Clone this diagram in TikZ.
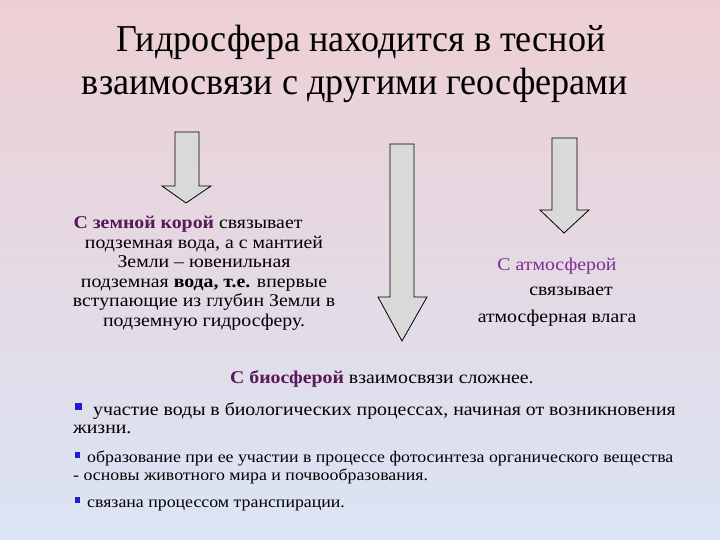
\documentclass[tikz,border=0pt]{standalone}
\usepackage{fontspec}
\setmainfont[FakeStretch=1.1]{Liberation Serif}
\newfontfamily\titlefont[FakeStretch=0.95]{Liberation Serif}
\definecolor{bgtop}{RGB}{237,207,211}
\definecolor{bgmid}{RGB}{198,210,236}
\definecolor{bgbot}{RGB}{219,228,245}
\definecolor{crust}{RGB}{88,24,90}
\definecolor{atmo}{RGB}{125,45,145}
\definecolor{bulletblue}{RGB}{30,30,205}
\definecolor{arrowgray}{RGB}{217,217,217}

\begin{document}
\begin{tikzpicture}[x=1pt,y=-1pt,
  blockarrow/.style={draw=black,fill=arrowgray,line width=0.8pt,line join=miter},
  bodytext/.style={inner sep=0pt,font=\fontsize{18}{19.6}\selectfont,align=center},
  bullettext/.style={inner sep=0pt,anchor=base west},
  bulletbox/.style={fill=bulletblue,draw=none}]
  % background
  \shade[top color=bgtop,middle color=bgmid,bottom color=bgbot] (0,0) rectangle (720,540);
  \useasboundingbox (0,0) rectangle (720,540);

  % title
  \node[inner sep=0pt,anchor=base,font=\titlefont\fontsize{38}{40}\selectfont] (title1) at (361,52) {Гидросфера находится в тесной};
  \node[inner sep=0pt,anchor=base,font=\titlefont\fontsize{38}{40}\selectfont] (title2) at (355,95) {взаимосвязи с другими геосферами};

  % arrows
  \draw[blockarrow] (175,132) -- (199,132) -- (199,186) -- (211,186) -- (186,203) -- (162,186) -- (175,186) -- cycle;
  \draw[blockarrow] (390,144) -- (414,144) -- (414,297) -- (427,297) -- (402,341) -- (378,297) -- (390,297) -- cycle;
  \draw[blockarrow] (552,138) -- (577,138) -- (577,210) -- (589,210) -- (564,233) -- (540,210) -- (552,210) -- cycle;

  % crust and mantle
  \node[bodytext,anchor=north] (crust) at (204,216) {\textbf{\textcolor{crust}{С земной корой}} связывает\hspace*{32pt}\\
    подземная вода, а с мантией\\
    Земли -- ювенильная\\
    подземная \textbf{вода, т.е.} впервые\\
    вступающие из глубин Земли в\\
    подземную гидросферу.};

  % atmosphere
  \node[bodytext,anchor=base] (atmo1) at (557,270) {\textcolor{atmo}{С атмосферой}};
  \node[bodytext,anchor=base] (atmo2) at (571,295) {связывает};
  \node[bodytext,anchor=base] (atmo3) at (557,322) {атмосферная влага};

  % biosphere
  \node[bodytext,anchor=base west] (bio) at (230,383) {\textbf{\textcolor{crust}{С биосферой}} взаимосвязи сложнее.};
  \fill[bulletbox] (75,403) rectangle (82,410);
  \node[bullettext,font=\fontsize{18}{19}\selectfont] (bio1a) at (93,415) {участие воды в биологических процессах, начиная от возникновения};
  \node[bullettext,font=\fontsize{18}{19}\selectfont] (bio1b) at (73,433) {жизни.};
  \fill[bulletbox] (75,452) rectangle (80,458);
  \node[bullettext,font=\fontsize{16.2}{17}\selectfont] (bio2a) at (87,462) {образование при ее участии в процессе фотосинтеза органического вещества};
  \node[bullettext,font=\fontsize{16.2}{17}\selectfont] (bio2b) at (73,480) {- основы животного мира и почвообразования.};
  \fill[bulletbox] (75,497) rectangle (80,503);
  \node[bullettext,font=\fontsize{16.2}{17}\selectfont] (bio3) at (87,507) {связана процессом транспирации.};
\end{tikzpicture}
\end{document}
